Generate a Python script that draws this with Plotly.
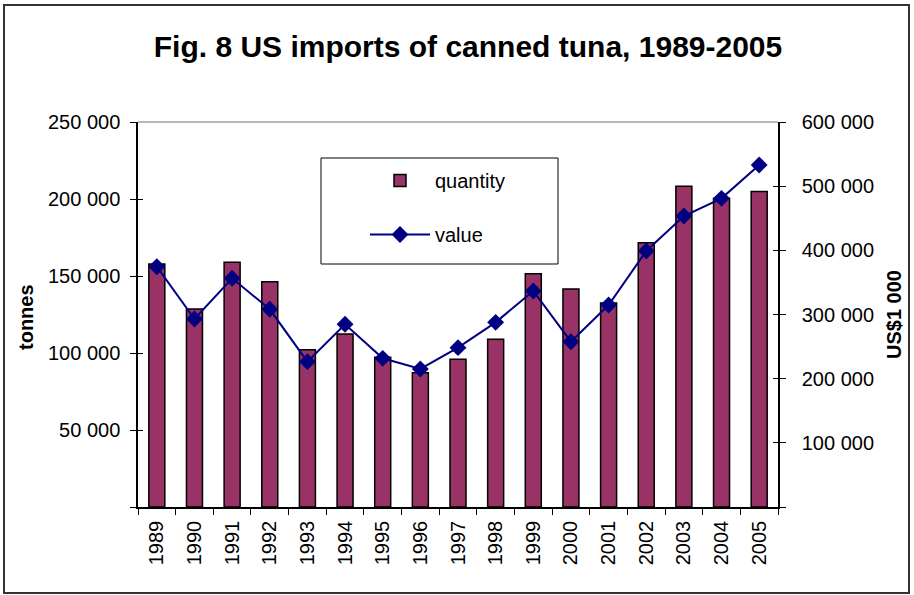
import plotly.graph_objects as go

years = [str(y) for y in range(1989, 2006)]
quantity = [157800, 128600, 158900, 146300, 102100, 112300, 97200, 87200, 95900,
            108900, 151500, 141600, 132500, 171600, 208300, 200500, 204800]
value = [374500, 293000, 356400, 308100, 226500, 284700, 231700, 215100, 248300,
         287800, 336600, 257600, 314800, 399000, 453500, 481000, 533000]

left_ticks = [0, 50000, 100000, 150000, 200000, 250000]
left_text = ["", "50 000", "100 000", "150 000", "200 000", "250 000"]
right_ticks = [0, 100000, 200000, 300000, 400000, 500000, 600000]
right_text = ["", "100 000", "200 000", "300 000", "400 000", "500 000", "600 000"]

FONT = "Liberation Sans, Arial, sans-serif"

fig = go.Figure()
fig.add_trace(go.Bar(
    x=years, y=quantity, name="quantity", yaxis="y",
    marker=dict(color="#993366", line=dict(color="black", width=1.5)),
    legendgroup="a",
))
fig.add_trace(go.Scatter(
    x=years, y=value, name="value", yaxis="y2", mode="lines+markers",
    line=dict(color="#000080", width=2),
    marker=dict(symbol="diamond", size=13, color="#000080"),
    legendgroup="b",
))
# helper traces for inside half of cross ticks
fig.add_trace(go.Scatter(x=years[:1], y=[None], yaxis="y3", showlegend=False, hoverinfo="skip"))
fig.add_trace(go.Scatter(x=years[:1], y=[None], yaxis="y4", showlegend=False, hoverinfo="skip"))

axis_font = dict(family=FONT, size=20, color="black")

PW, PH = 640, 385
def px(x):
    return (x - 138) / PW
def py(y):
    return (507 - y) / PH

fig.update_layout(
    width=914, height=595,
    margin=dict(l=138, r=136, t=122, b=88),
    paper_bgcolor="white", plot_bgcolor="white",
    font=dict(family=FONT, color="black"),
    title=dict(text="<b>Fig. 8 US imports of canned tuna, 1989-2005</b>",
               font=dict(family=FONT, size=30, color="black"),
               x=468/914, xanchor="center", xref="container",
               y=1-46/595, yanchor="middle", yref="container"),
    bargap=0.575,
    showlegend=True,
    legend=dict(x=px(321), y=py(161), xanchor="left", yanchor="top",
                borderwidth=0, bgcolor="rgba(0,0,0,0)",
                font=dict(family=FONT, size=20, color="black"),
                traceorder="grouped", tracegroupgap=25, itemwidth=60,
                indentation=44),
    xaxis=dict(type="category", range=[-0.5, 16.5], tickangle=-90,
               tickson="boundaries", ticks="outside", ticklen=6, tickcolor="black",
               showline=True, linecolor="black", linewidth=1.5,
               showgrid=False, tickfont=axis_font, zeroline=False,
               ticklabelstandoff=4),
    yaxis=dict(range=[0, 250000], tickvals=left_ticks, ticktext=left_text,
               ticks="outside", ticklen=6, tickcolor="black",
               showline=True, linecolor="black", linewidth=1.5,
               showgrid=False, zeroline=False, tickfont=axis_font,
               ticklabelstandoff=6),
    yaxis2=dict(range=[0, 600000], tickvals=right_ticks, ticktext=right_text,
                overlaying="y", side="right",
                ticks="outside", ticklen=6, tickcolor="black",
                showline=True, linecolor="black", linewidth=1.5,
                showgrid=False, zeroline=False, tickfont=axis_font,
                ticklabelstandoff=12,
                title=dict(text="<b>US$1 000</b>", font=dict(family=FONT, size=20),
                           standoff=14)),
    yaxis3=dict(range=[0, 250000], tickvals=left_ticks, overlaying="y", side="left",
                ticks="inside", ticklen=5, tickcolor="black", showticklabels=False,
                showline=False, showgrid=False, zeroline=False),
    yaxis4=dict(range=[0, 600000], tickvals=right_ticks, overlaying="y", side="right",
                ticks="inside", ticklen=5, tickcolor="black", showticklabels=False,
                showline=False, showgrid=False, zeroline=False),
    annotations=[
        dict(text="<b>tonnes</b>", xref="paper", yref="paper",
             x=px(26), y=py(317), xanchor="center", yanchor="middle",
             textangle=-90, showarrow=False,
             font=dict(family=FONT, size=20, color="black")),
    ],
    shapes=[
        dict(type="line", xref="paper", yref="paper", x0=0, x1=1, y0=1, y1=1,
             line=dict(color="#a0a0a0", width=1.5)),
        dict(type="rect", xref="paper", yref="paper",
             x0=px(321), x1=px(558), y0=py(264), y1=py(158),
             line=dict(color="black", width=1)),
        dict(type="rect", xref="paper", yref="paper",
             x0=px(4), x1=px(909), y0=py(593), y1=py(5),
             line=dict(color="#333333", width=2)),
    ],
)

fig.write_html("out.html", config={"displayModeBar": False},
               post_script="document.body.style.margin='0';")
